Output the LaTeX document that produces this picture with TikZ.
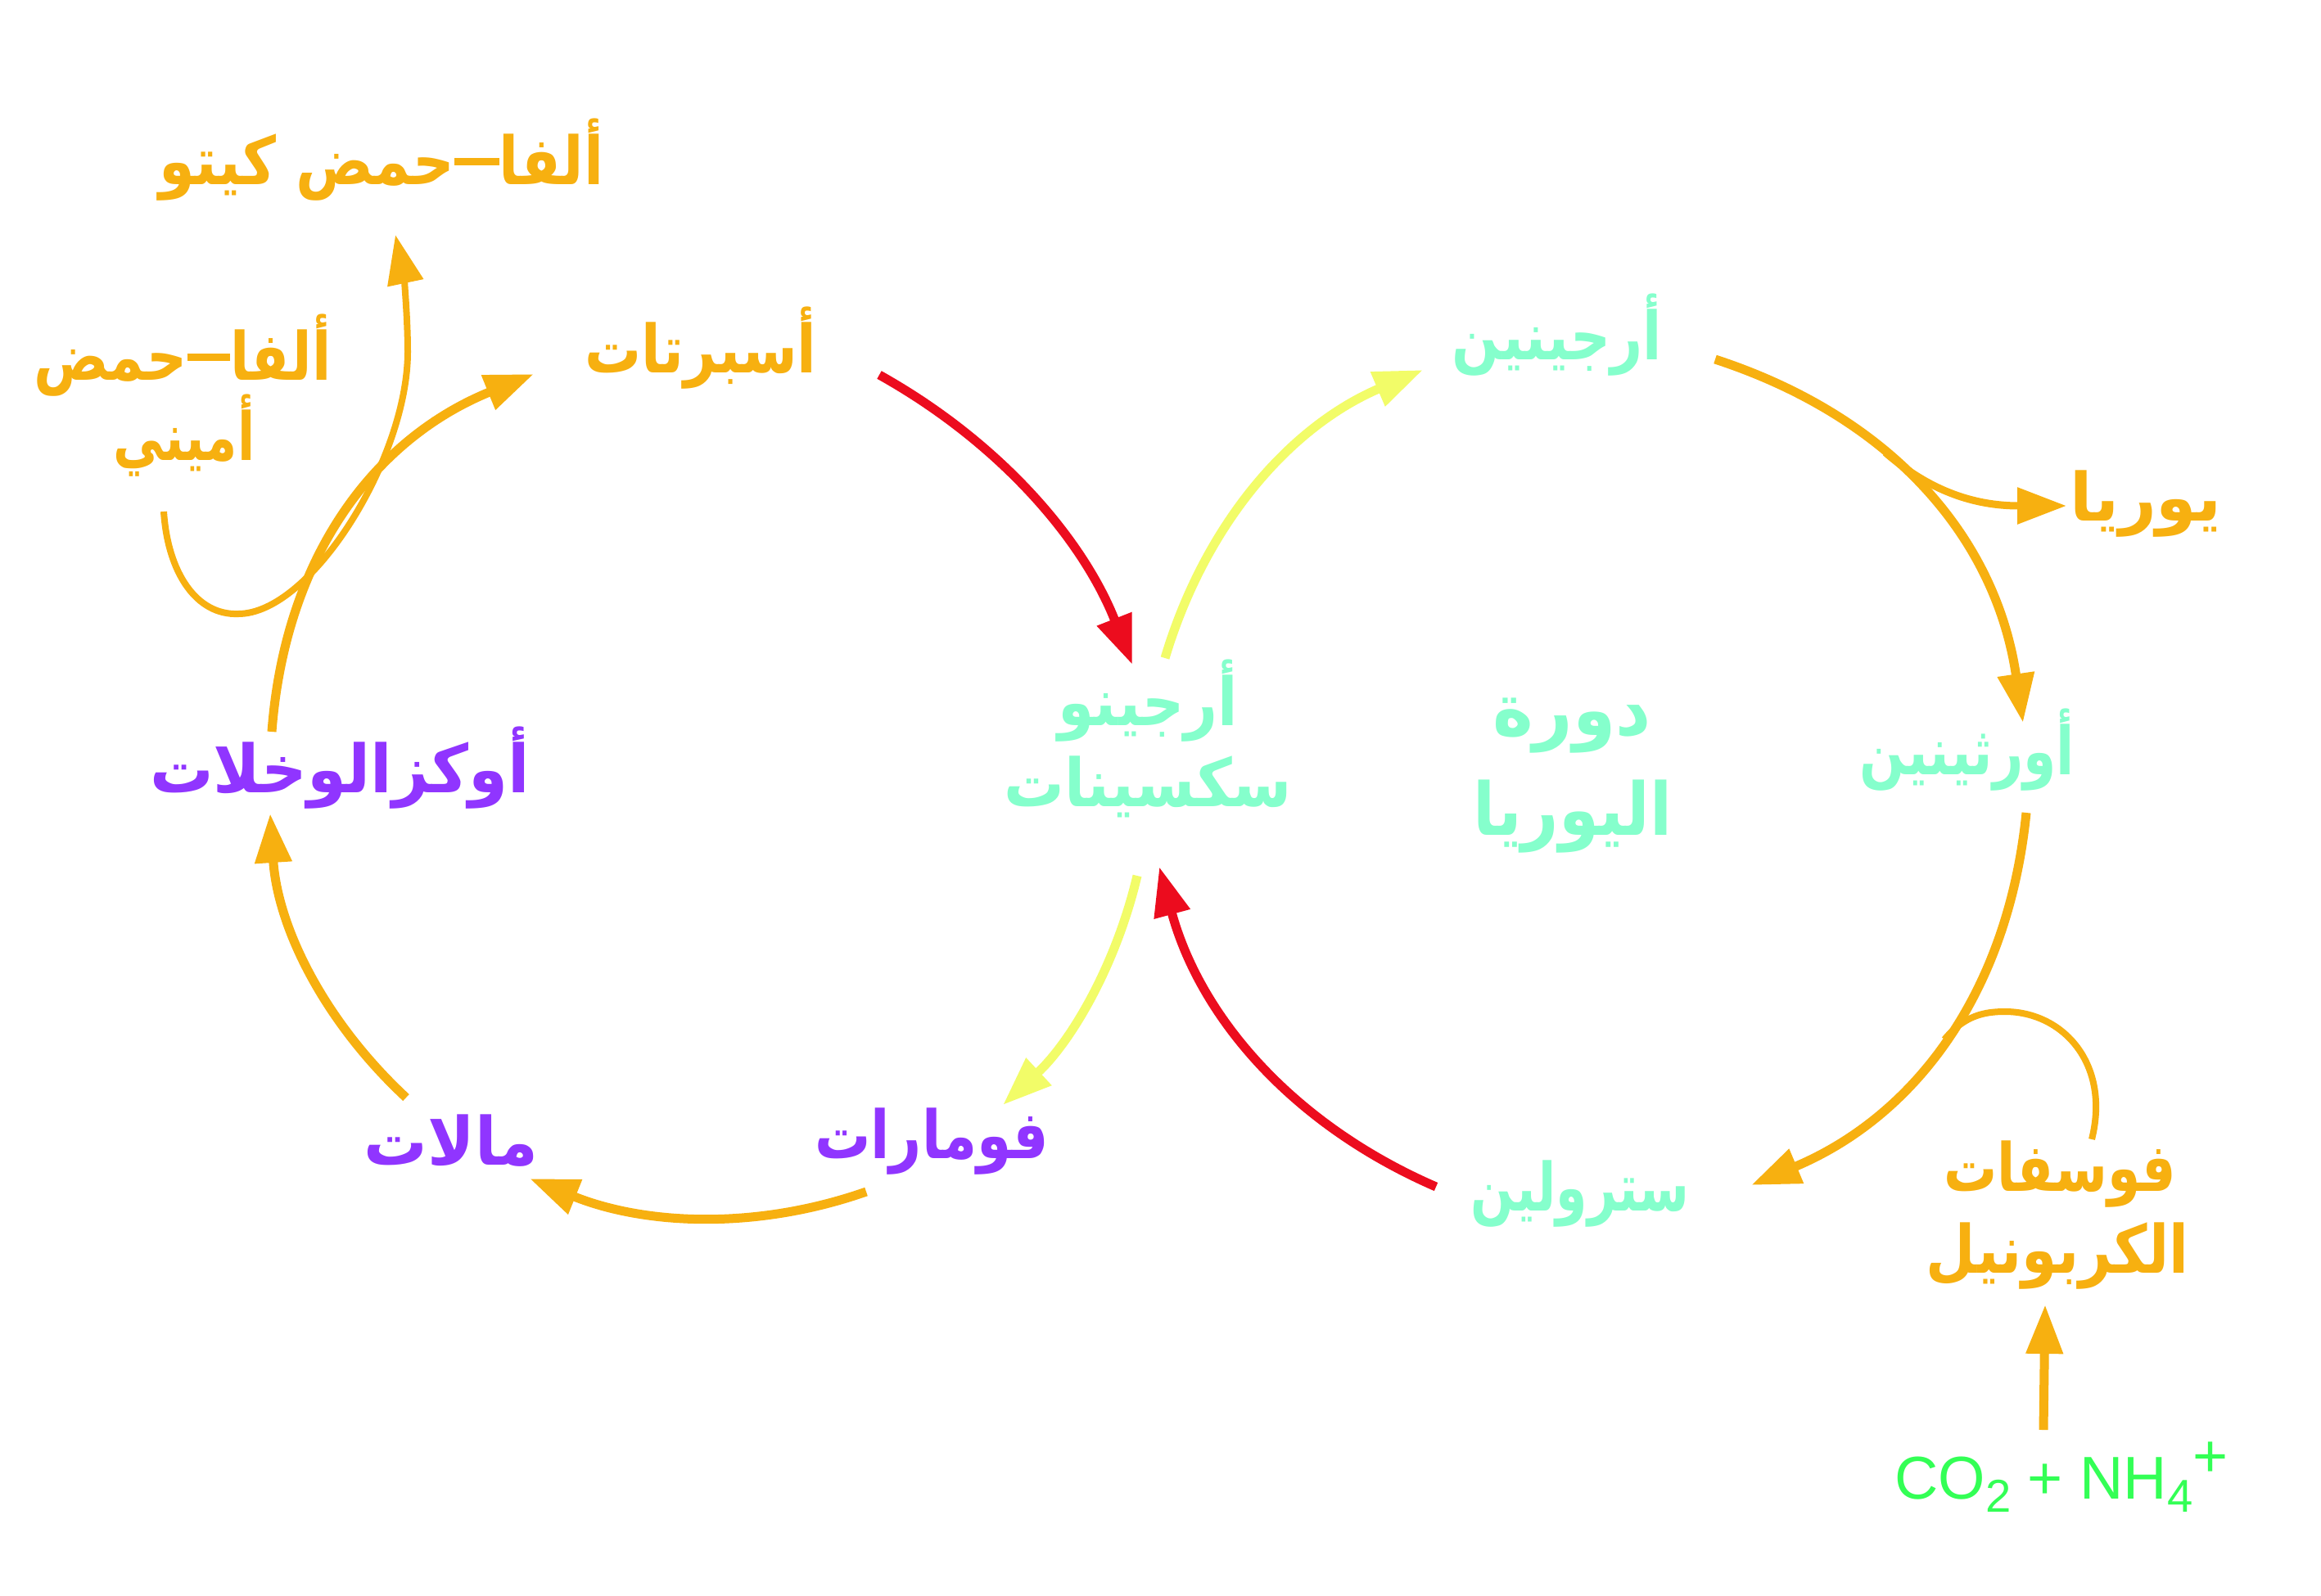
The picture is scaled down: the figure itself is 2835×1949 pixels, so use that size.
\documentclass[tikz,border=0pt]{standalone}
\usepackage{graphicx}
\usepackage{fontspec}
\setmainfont{Liberation Sans}
\newfontfamily\arabicfont[Script=Arabic]{DejaVu Sans}
\TeXXeTstate=1
\usetikzlibrary{arrows.meta}
\definecolor{corange}{HTML}{F7B010}
\definecolor{cred}{HTML}{EC0C1E}
\definecolor{cyellow}{HTML}{F2FC68}
\definecolor{caqua}{HTML}{85FFCC}
\definecolor{cpurple}{HTML}{9035FF}
\definecolor{cgreen}{HTML}{33FF55}
\tikzset{
  lbl/.style={font=\arabicfont\bfseries\fontsize{22}{22}\selectfont, inner sep=0pt, anchor=base},
  arr/.style={-{Triangle[length=6mm,width=4.3mm]}, line width=1.1mm},
  loopline/.style={line width=0.8mm},
}
\newcommand\ardash{\rule[2.2mm]{6mm}{0.85mm}}
\begin{document}
\begin{tikzpicture}[x=0.1mm,y=-0.1mm]
\fill[white] (0,0) rectangle (2835,1949);
\useasboundingbox (0,0) rectangle (2835,1949);
% labels
\node[lbl,text=corange] (aketo) at (466,225) {\scalebox{0.91}[1.05]{\beginR ألفا\ardash حمض كيتو\endR}};
\node[lbl,text=corange] (aamino1) at (223,464) {\scalebox{0.88}[1.05]{\beginR ألفا\ardash حمض\endR}};
\node[lbl,text=corange] (aamino2) at (225,562) {\scalebox{0.8}[1.05]{\beginR أميني\endR}};
\node[lbl,text=corange] (asp) at (856,455) {\scalebox{0.89}[1.05]{\beginR أسبرتات\endR}};
\node[lbl,text=cpurple] (oxa) at (415,968) {\scalebox{1.0}[1.05]{\beginR أوكزالوخلات\endR}};
\node[lbl,text=cpurple] (mal) at (551,1423) {\scalebox{1.0}[1.05]{\beginR مالات\endR}};
\node[lbl,text=cpurple] (fum) at (1138,1415) {\scalebox{0.88}[1.05]{\beginR فومارات\endR}};
\node[lbl,text=caqua] (asuc1) at (1402,886) {\scalebox{0.92}[1.05]{\beginR أرجينو\endR}};
\node[lbl,text=caqua] (asuc2) at (1402,985) {\scalebox{0.95}[1.05]{\beginR سكسينات\endR}};
\node[lbl,text=caqua] (arg) at (1902,439) {\scalebox{0.88}[1.05]{\beginR أرجينين\endR}};
\node[lbl,text=corange] (urea) at (2621,636) {\scalebox{1.03}[1.05]{\beginR يوريا\endR}};
\node[lbl,text=caqua] (orn) at (2403,946) {\scalebox{0.84}[1.05]{\beginR أورثينين\endR}};
\node[lbl,text=caqua] (cyc1) at (1920,898) {\scalebox{1.09}[1.15]{\beginR دورة\endR}};
\node[lbl,text=caqua] (cyc2) at (1921,1020) {\scalebox{1.02}[1.15]{\beginR اليوريا\endR}};
\node[lbl,text=caqua] (cit) at (1930,1479) {\scalebox{0.8}[1.05]{\beginR سترولين\endR}};
\node[lbl,text=corange] (carb1) at (2516,1455) {\scalebox{0.84}[1.05]{\beginR فوسفات\endR}};
\node[lbl,text=corange] (carb2) at (2513,1555) {\scalebox{0.9}[1.05]{\beginR الكربونيل\endR}};
\node[inner sep=0pt,anchor=base,text=cgreen,font=\fontsize{21}{21}\selectfont] (co2) at (2518,1831)
  {CO\raisebox{-0.22em}{\fontsize{16}{16}\selectfont 2} + NH\raisebox{-0.22em}{\fontsize{16}{16}\selectfont 4}\raisebox{0.36em}{+}};
% connector end points
\coordinate (r1s) at (1074,458);  \coordinate (r1e) at (1383,812);
\coordinate (y1s) at (1423,804);  \coordinate (y1e) at (1738,452);
\coordinate (o3s) at (2095,439);  \coordinate (o3e) at (2471,883);
\coordinate (ub)  at (2303,553);  \coordinate (ue)  at (2524,618);
\coordinate (o4s) at (2475,993);  \coordinate (o4e) at (2139,1448);
\coordinate (cb)  at (2375,1270); \coordinate (ce)  at (2555,1392);
\coordinate (r2s) at (1754,1450); \coordinate (r2e) at (1416,1059);
\coordinate (y2s) at (1389,1070); \coordinate (y2e) at (1225,1350);
\coordinate (o7s) at (1058,1456); \coordinate (o7e) at (647,1440);
\coordinate (o8s) at (496,1341);  \coordinate (o8e) at (330,994);
\coordinate (o9s) at (332,894);   \coordinate (o9e) at (652,457);
\coordinate (ls)  at (200,625);   \coordinate (le)  at (483,287);
\coordinate (vs)  at (2496,1747); \coordinate (ve)  at (2498,1594);
% connectors
\draw[arr,cred] (r1s) .. controls (1219,539) and (1322,657) .. (r1e);
\draw[arr,cyellow] (y1s) .. controls (1473,637) and (1578,520) .. (y1e);
\draw[arr,corange] (o3s) .. controls (2312,510) and (2438,658) .. (o3e);
\draw[arr,corange,line width=0.9mm] (ub) .. controls (2356,599) and (2410,618) .. (ue);
\draw[arr,corange] (o4s) .. controls (2453,1211) and (2341,1363) .. (o4e);
\draw[loopline,corange] (cb) .. controls (2400,1240) and (2425,1236) .. (2449,1236)
   .. controls (2520,1236) and (2578,1300) .. (ce);
\draw[arr,cred] (r2s) .. controls (1579,1374) and (1466,1243) .. (r2e);
\draw[arr,cyellow] (y2s) .. controls (1363,1180) and (1308,1273) .. (y2e);
\draw[arr,corange] (o7s) .. controls (924,1503) and (788,1497) .. (o7e);
\draw[arr,corange] (o8s) .. controls (395,1247) and (339,1132) .. (o8e);
\draw[arr,corange] (o9s) .. controls (348,683) and (455,537) .. (o9e);
\draw[arr,corange,line width=0.8mm] (ls) .. controls (205,700) and (240,752) .. (291,750)
   .. controls (380,750) and (498,560) .. (498,430)
   .. controls (498,380) and (492,330) .. (le);
\draw[arr,corange] (vs) -- (ve);
\end{tikzpicture}
\end{document}
